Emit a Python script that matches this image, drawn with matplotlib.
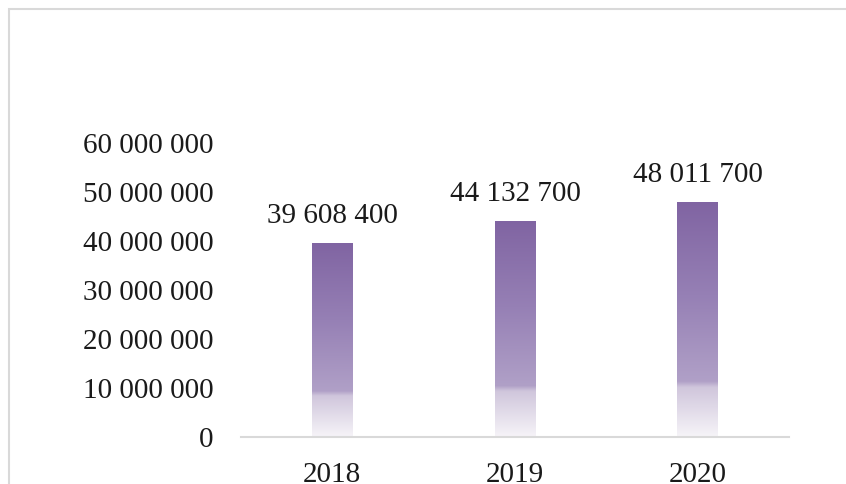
import matplotlib
matplotlib.use("Agg")
import matplotlib.pyplot as plt
import numpy as np
from matplotlib.colors import LinearSegmentedColormap
from matplotlib.patches import Rectangle
from matplotlib.ticker import FuncFormatter, MultipleLocator

years = ["2018", "2019", "2020"]
values = [39608400, 44132700, 48011700]
labels = ["39 608 400", "44 132 700", "48 011 700"]

plt.rcParams['font.family'] = ['Liberation Serif', 'DejaVu Serif']

W, H = 846, 484
fig = plt.figure(figsize=(W / 100, H / 100), dpi=100)
ax = fig.add_axes([241 / W, 47 / H, (789 - 241) / W, (437 - 143) / H])

# gradient colormap: 0 = bottom, 1 = top
cmap = LinearSegmentedColormap.from_list(
    "grad",
    [(0.0, "#f6f4f8"), (0.21, "#d0c6dc"), (0.235, "#b0a0c7"), (0.6, "#9680b5"), (1.0, "#8064a2")],
)

x = np.arange(len(years))
bars = ax.bar(x, values, width=0.224, color="none", edgecolor="none", zorder=2)
grad = np.linspace(0, 1, 256).reshape(-1, 1)
for b in bars:
    x0, y0 = b.get_x(), b.get_y()
    w, h = b.get_width(), b.get_height()
    im = ax.imshow(grad, cmap=cmap, origin="lower", aspect="auto",
                   extent=(x0, x0 + w, y0, y0 + h), zorder=2)
    im.set_clip_path(b)

for xi, v, lab in zip(x, values, labels):
    ax.annotate(lab, (xi, v), xytext=(0, 14), textcoords="offset points",
                ha="center", va="baseline", fontsize=21, color="#1a1a1a")

ax.set_xlim(-0.5, 2.5)
ax.set_ylim(0, 60000000)
ax.yaxis.set_major_locator(MultipleLocator(10000000))
ax.yaxis.set_major_formatter(FuncFormatter(lambda v, p: f"{int(v):,}".replace(",", " ")))
ax.set_xticks(x)
ax.set_xticklabels(years)

for s in ["top", "right", "left"]:
    ax.spines[s].set_visible(False)
ax.spines["bottom"].set_color("#d9d9d9")
ax.spines["bottom"].set_linewidth(1.5)
ax.tick_params(axis="both", length=0, labelsize=21, colors="#1a1a1a")
ax.tick_params(axis="y", pad=20)
ax.tick_params(axis="x", pad=18)

# outer border
fig.patches.append(Rectangle((8.5 / W, -0.1), 1.2, (H - 9) / H + 0.1,
                             transform=fig.transFigure, fill=False,
                             edgecolor="#d9d9d9", linewidth=1.5, zorder=0))

fig.savefig("out.png", dpi=100)
